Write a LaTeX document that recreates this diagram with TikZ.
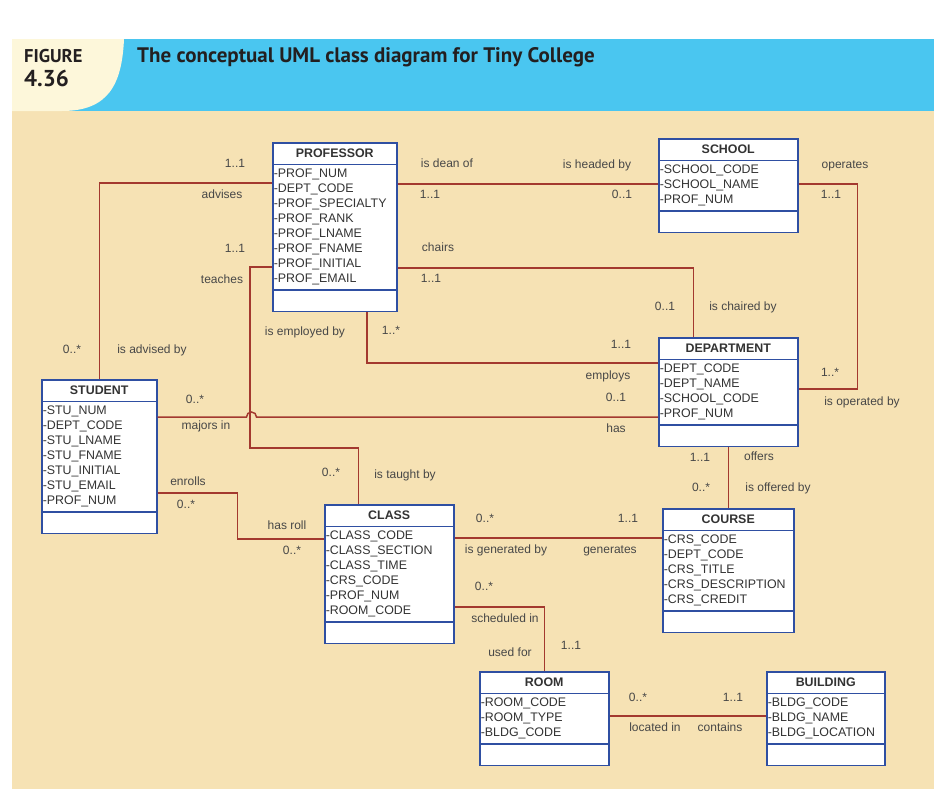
\documentclass[tikz,border=0pt]{standalone}
\usepackage{fontspec}
\setmainfont{Liberation Sans}
\newfontfamily\cabfont{PT Sans}
\usetikzlibrary{shapes.multipart}
\definecolor{cian}{HTML}{4AC6F0}
\definecolor{crema}{HTML}{FDF7DA}
\definecolor{beige}{HTML}{F6E2B4}
\definecolor{azulcaja}{HTML}{2F4FA2}
\definecolor{rojolinea}{HTML}{A3392F}
\definecolor{grisetiq}{HTML}{474747}
\definecolor{tinta}{HTML}{231F20}
\newcommand{\atrib}[1]{\begin{tabular}{@{}l@{}}#1\end{tabular}}
\newcommand{\cab}[1]{\textbf{#1}\rule[-4.5pt]{0pt}{16pt}}

\begin{document}
\begin{tikzpicture}[x=1pt,y=-1pt,
    clase/.style={rectangle split, rectangle split parts=3, draw=azulcaja,
        line width=1.5pt, fill=white, anchor=north west, inner xsep=1pt,
        inner ysep=2pt, rectangle split part align={center,left,left},
        rectangle split empty part height=16pt,
        rectangle split empty part depth=0pt,
        font=\fontsize{12.4}{15}\selectfont, text=black!80},
    enlace/.style={draw=rojolinea, line width=1.5pt},
    etiq/.style={font=\fontsize{12}{15}\selectfont, text=grisetiq,
        inner sep=0pt, text height=9pt, text depth=0pt}]
        \useasboundingbox (0,0) rectangle (946,809);
        \fill[white] (0,0) rectangle (946,809);
        % fondo y cabecera
        \fill[beige] (12,111) rectangle (934,789);
        \fill[cian] (12,39) rectangle (934,111);
        \fill[crema] (12,39) -- (124,39) .. controls (122,85) and (108,111) .. (62,111) -- (12,111) -- cycle;
        \node[anchor=base west, inner sep=0pt, text=tinta, font=\cabfont\bfseries\fontsize{18.5}{18}\selectfont] (fig) at (24,62) {FIGURE};
        \node[anchor=base west, inner sep=0pt, text=tinta, font=\cabfont\bfseries\fontsize{23}{23}\selectfont] (num) at (24,86) {4.36};
        \node[anchor=base west, inner sep=0pt, text=tinta, font=\cabfont\bfseries\fontsize{21}{21}\selectfont] (titulo) at (137,62) {The conceptual UML class diagram for Tiny College};
        % clases
        \node[clase, minimum width=124pt] (prof) at (272,142) {\cab{PROFESSOR}
            \nodepart{two}\atrib{-PROF\_NUM\\-DEPT\_CODE\\-PROF\_SPECIALTY\\-PROF\_RANK\\-PROF\_LNAME\\-PROF\_FNAME\\-PROF\_INITIAL\\-PROF\_EMAIL}
            \nodepart{three}};
        \node[clase, minimum width=139pt] (escuela) at (658,138) {\cab{SCHOOL}
            \nodepart{two}\atrib{-SCHOOL\_CODE\\-SCHOOL\_NAME\\-PROF\_NUM}
            \nodepart{three}};
        \node[clase, minimum width=115pt] (est) at (41,379) {\cab{STUDENT}
            \nodepart{two}\atrib{-STU\_NUM\\-DEPT\_CODE\\-STU\_LNAME\\-STU\_FNAME\\-STU\_INITIAL\\-STU\_EMAIL\\-PROF\_NUM}
            \nodepart{three}};
        \node[clase, minimum width=139pt] (depto) at (658,337) {\cab{DEPARTMENT}
            \nodepart{two}\atrib{-DEPT\_CODE\\-DEPT\_NAME\\-SCHOOL\_CODE\\-PROF\_NUM}
            \nodepart{three}};
        \node[clase, minimum width=129pt] (clase) at (324,504) {\cab{CLASS}
            \nodepart{two}\atrib{-CLASS\_CODE\\-CLASS\_SECTION\\-CLASS\_TIME\\-CRS\_CODE\\-PROF\_NUM\\-ROOM\_CODE}
            \nodepart{three}};
        \node[clase, minimum width=131pt] (curso) at (662,508) {\cab{COURSE}
            \nodepart{two}\atrib{-CRS\_CODE\\-DEPT\_CODE\\-CRS\_TITLE\\-CRS\_DESCRIPTION\\-CRS\_CREDIT}
            \nodepart{three}};
        \node[clase, minimum width=129pt] (sala) at (479,671) {\cab{ROOM}
            \nodepart{two}\atrib{-ROOM\_CODE\\-ROOM\_TYPE\\-BLDG\_CODE}
            \nodepart{three}};
        \node[clase, minimum width=118pt] (edif) at (766,671) {\cab{BUILDING}
            \nodepart{two}\atrib{-BLDG\_CODE\\-BLDG\_NAME\\-BLDG\_LOCATION}
            \nodepart{three}};
        % asociaciones
        \draw[enlace] ([yshift=-41pt]prof.north west) -| (est.north);
        \draw[enlace] ([yshift=-42pt]prof.north east) -- ([yshift=-46pt]escuela.north west);
        \draw[enlace] ([yshift=-46pt]escuela.north east) -- ++(59,0) |- ([yshift=-52pt]depto.north east);
        \draw[enlace] ([yshift=-126pt]prof.north east) -| ([xshift=-35pt]depto.north);
        \draw[enlace] ([xshift=32pt]prof.south) |- ([yshift=-26pt]depto.north west);
        \draw[enlace] ([yshift=-125pt]prof.north west) -- ++(-22,0) -- ++(0,181) -| ([xshift=-31pt]clase.north);
        \draw[enlace] ([yshift=-38pt]est.north east) -- ++(89,0) arc[start angle=180, end angle=360, radius=5] -- ([yshift=-80pt]depto.north west); % salto
        \draw[enlace] ([yshift=-114pt]est.north east) -- ++(80,0) |- ([yshift=-35pt]clase.north west);
        \draw[enlace] ([yshift=-34pt]clase.north east) -- ([yshift=-30pt]curso.north west);
        \draw[enlace] ([yshift=-103pt]clase.north east) -| (sala.north);
        \draw[enlace] (depto.south) -- (curso.north);
        \draw[enlace] ([yshift=-45pt]sala.north east) -- ([yshift=-45pt]edif.north west);
        % multiplicidades y roles
        \foreach \x/\y/\t [count=\i] in {235/163/1..1, 222/194/advises, 235/248/1..1, 222/279/teaches,
            447/163/is dean of, 430/194/1..1, 597/164/is headed by, 622/194/0..1,
            845/164/operates, 831/194/1..1, 438/247/chairs, 431/278/1..1,
            665/306/0..1, 743/306/is chaired by, 305/331/is employed by, 391/330/1..*,
            621/344/1..1, 608/375/employs, 616/397/0..1, 616/428/has,
            830/372/1..*, 862/401/is operated by, 72/349/0..*, 152/349/is advised by,
            195/399/0..*, 206/425/majors in, 188/481/enrolls, 186/504/0..*,
            331/472/0..*, 405/474/is taught by, 287/525/has roll, 292/550/0..*,
            700/457/1..1, 759/456/offers, 701/487/0..*, 778/487/is offered by,
            485/518/0..*, 628/518/1..1, 506/549/is generated by, 610/549/generates,
            484/586/0..*, 505/618/scheduled in, 510/652/used for, 571/645/1..1,
            638/697/0..*, 733/697/1..1, 655/727/located in, 720/727/contains}
            \node[etiq] (lab\i) at (\x,\y) {\t};
    \end{tikzpicture}
\end{document}
